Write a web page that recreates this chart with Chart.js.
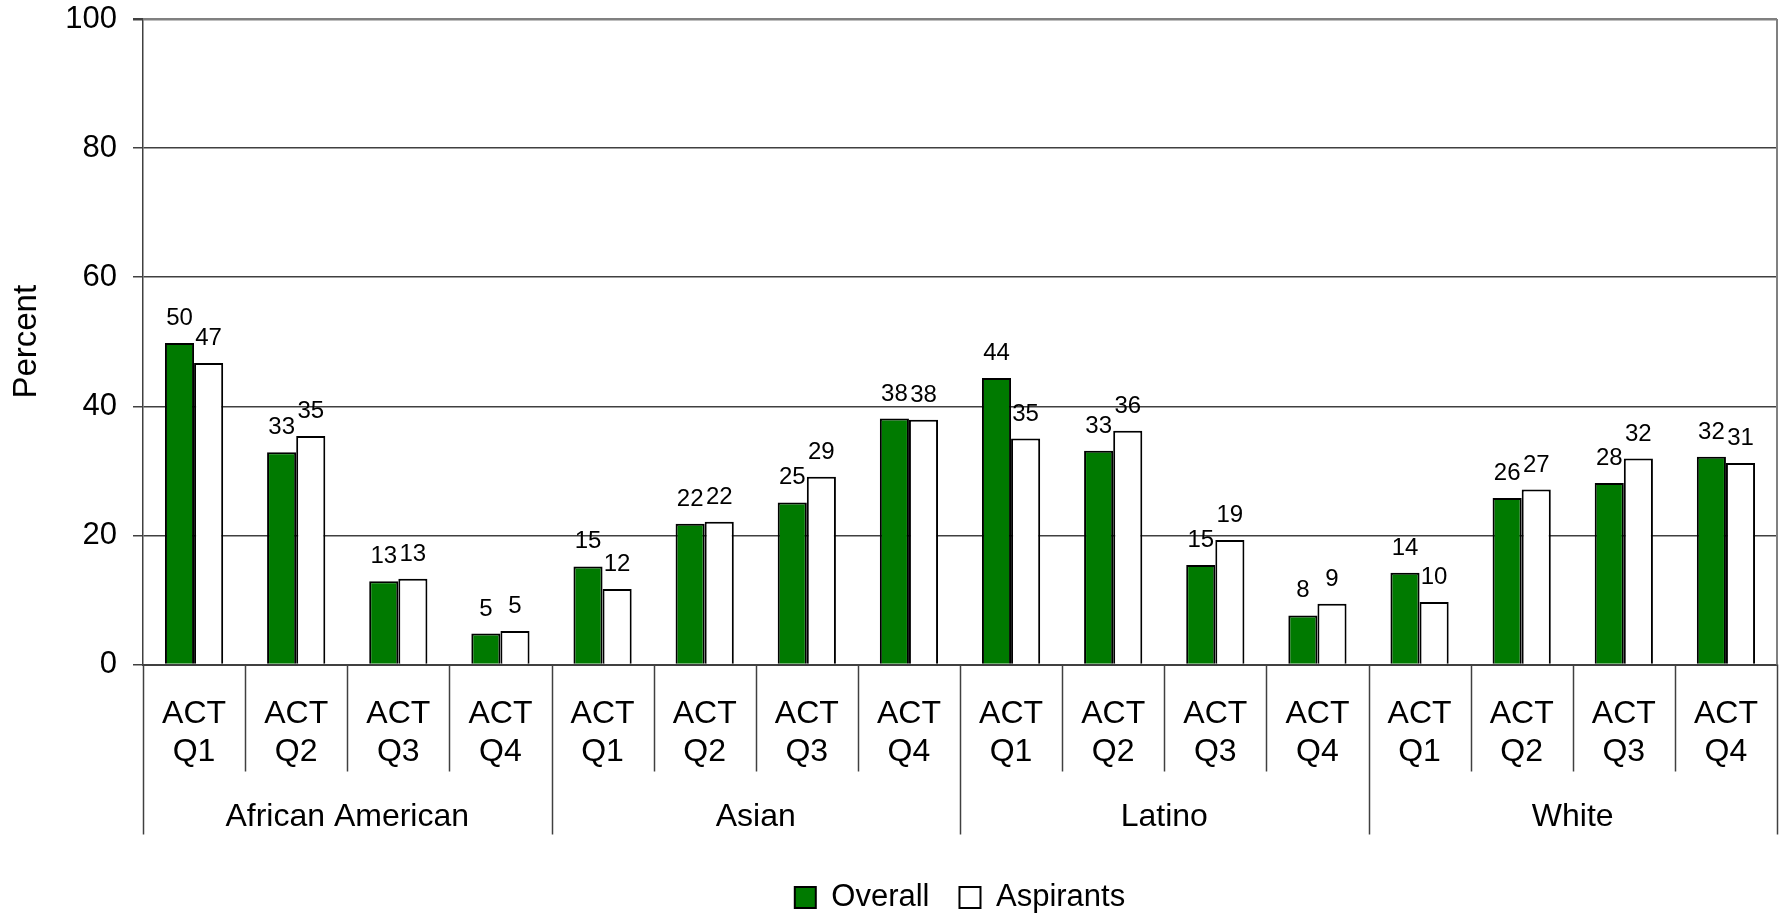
<!DOCTYPE html>
<html>
<head>
<meta charset="utf-8">
<script src="https://cdn.jsdelivr.net/npm/chart.js@4/dist/chart.umd.min.js"></script>
<style>
  html, body { margin: 0; padding: 0; background: #ffffff; }
  #wrap { position: relative; width: 1785px; height: 914px; }
</style>
</head>
<body>
<div id="wrap"><canvas id="c"></canvas></div>
<script>
// ---- data ----
const groups = ['African American', 'Asian', 'Latino', 'White'];
const quartiles = ['Q1', 'Q2', 'Q3', 'Q4'];
const seriesNames = ['Overall', 'Aspirants'];
const overall   = [49.8, 32.9, 12.9, 4.8,  15.2, 21.8, 25.1, 38.1,  44.4, 33.1, 15.4, 7.6,  14.2, 25.8, 28.1, 32.2];
const aspirants = [46.7, 35.4, 13.3, 5.2,  11.7, 22.1, 29.1, 37.9,  35.0, 36.2, 19.3, 9.4,   9.7, 27.1, 31.9, 31.2];
const yTicks = [0, 20, 40, 60, 80, 100];

const categories = [];
groups.forEach(() => quartiles.forEach(q => categories.push(['ACT', q])));

const FONT = '"Liberation Sans", Arial, sans-serif';

const valueLabels = {
  id: 'valueLabels',
  afterDatasetsDraw(chart) {
    const ctx = chart.ctx;
    ctx.save();
    ctx.font = '24px ' + FONT;
    ctx.fillStyle = '#000';
    ctx.textAlign = 'center';
    ctx.textBaseline = 'alphabetic';
    chart.data.datasets.forEach((ds, di) => {
      const meta = chart.getDatasetMeta(di);
      meta.data.forEach((bar, i) => {
        ctx.fillText(String(Math.round(ds.data[i])), bar.x, bar.y - 18);
      });
    });
    ctx.restore();
  }
};

const separators = {
  id: 'separators',
  afterDraw(chart) {
    const x = chart.scales.x;
    const area = chart.chartArea;
    const ctx = chart.ctx;
    ctx.save();
    ctx.strokeStyle = '#404040';
    ctx.lineWidth = 1.5;
    const n = categories.length;
    for (let i = 0; i <= n; i++) {
      const px = Math.round(x.getPixelForValue(i - 0.5)) + 0.5;
      const isGroup = (i % quartiles.length) === 0;
      const len = isGroup ? 170 : 107;
      ctx.beginPath();
      ctx.moveTo(px, x.top);
      ctx.lineTo(px, x.top + len);
      ctx.stroke();
    }
    // right border of plot area
    ctx.strokeStyle = '#808080';
    ctx.lineWidth = 2;
    ctx.beginPath();
    ctx.moveTo(area.right, area.top);
    ctx.lineTo(area.right, area.bottom);
    ctx.stroke();
    ctx.restore();
  }
};

function noSidePadding(scale) {
  scale.paddingLeft = 0;
  scale.paddingRight = 0;
}

new Chart(document.getElementById('c'), {
  type: 'bar',
  data: {
    labels: categories,
    datasets: [
      { label: seriesNames[0], data: overall, backgroundColor: '#007a00', borderColor: '#000000', borderWidth: 2 },
      { label: seriesNames[1], data: aspirants, backgroundColor: '#ffffff', borderColor: '#000000', borderWidth: 2 }
    ]
  },
  options: {
    responsive: true,
    maintainAspectRatio: false,
    animation: false,
    datasets: { bar: { categoryPercentage: 0.57, barPercentage: 1.0 } },
    layout: { padding: { top: 19, right: 8, left: 0, bottom: 0 } },
    plugins: {
      tooltip: { enabled: false },
      legend: {
        position: 'bottom',
        fullSize: false,
        maxHeight: 62,
        labels: {
          font: { family: FONT, size: 31 },
          color: '#000',
          boxWidth: 21,
          boxHeight: 21,
          padding: 30
        }
      }
    },
    scales: {
      x: {
        type: 'category',
        position: 'bottom',
        offset: true,
        grid: { display: true, offset: true, drawOnChartArea: false, drawTicks: false, color: 'rgba(0,0,0,0)' },
        border: { display: true, color: '#404040', width: 2 },
        ticks: {
          font: { family: FONT, size: 32, lineHeight: 1.2 },
          color: '#000',
          padding: 30,
          maxRotation: 0,
          minRotation: 0,
          autoSkip: false
        },
        afterFit(scale) { scale.height = 107; noSidePadding(scale); }
      },
      x2: {
        type: 'category',
        position: 'bottom',
        labels: groups,
        offset: true,
        grid: { display: false, drawTicks: false },
        border: { display: false },
        ticks: {
          font: { family: FONT, size: 32, lineHeight: 1.2 },
          color: '#000',
          padding: 26,
          maxRotation: 0,
          autoSkip: false
        },
        afterFit(scale) { scale.height = 80.5; noSidePadding(scale); }
      },
      y: {
        min: 0,
        max: 100,
        afterBuildTicks(scale) { scale.ticks = yTicks.map(v => ({ value: v })); },
        grid: {
          color: (c) => (c.tick && c.tick.value === 100) ? '#808080' : '#404040',
          lineWidth: (c) => (c.tick && c.tick.value === 100) ? 2.5 : 1.5,
          tickLength: 10,
          tickColor: '#404040'
        },
        border: { display: true, color: '#404040', width: 1.5 },
        ticks: {
          font: { family: FONT, size: 31 },
          color: '#000',
          padding: 16
        },
        title: {
          display: true,
          text: 'Percent',
          font: { family: FONT, size: 33 },
          color: '#000',
          padding: { top: 7, bottom: 0 }
        },
        afterFit(scale) {
          scale.width = 143;
          scale.paddingTop = 0;
          scale.paddingBottom = 0;
        }
      }
    }
  },
  plugins: [valueLabels, separators]
});
</script>
</body>
</html>
